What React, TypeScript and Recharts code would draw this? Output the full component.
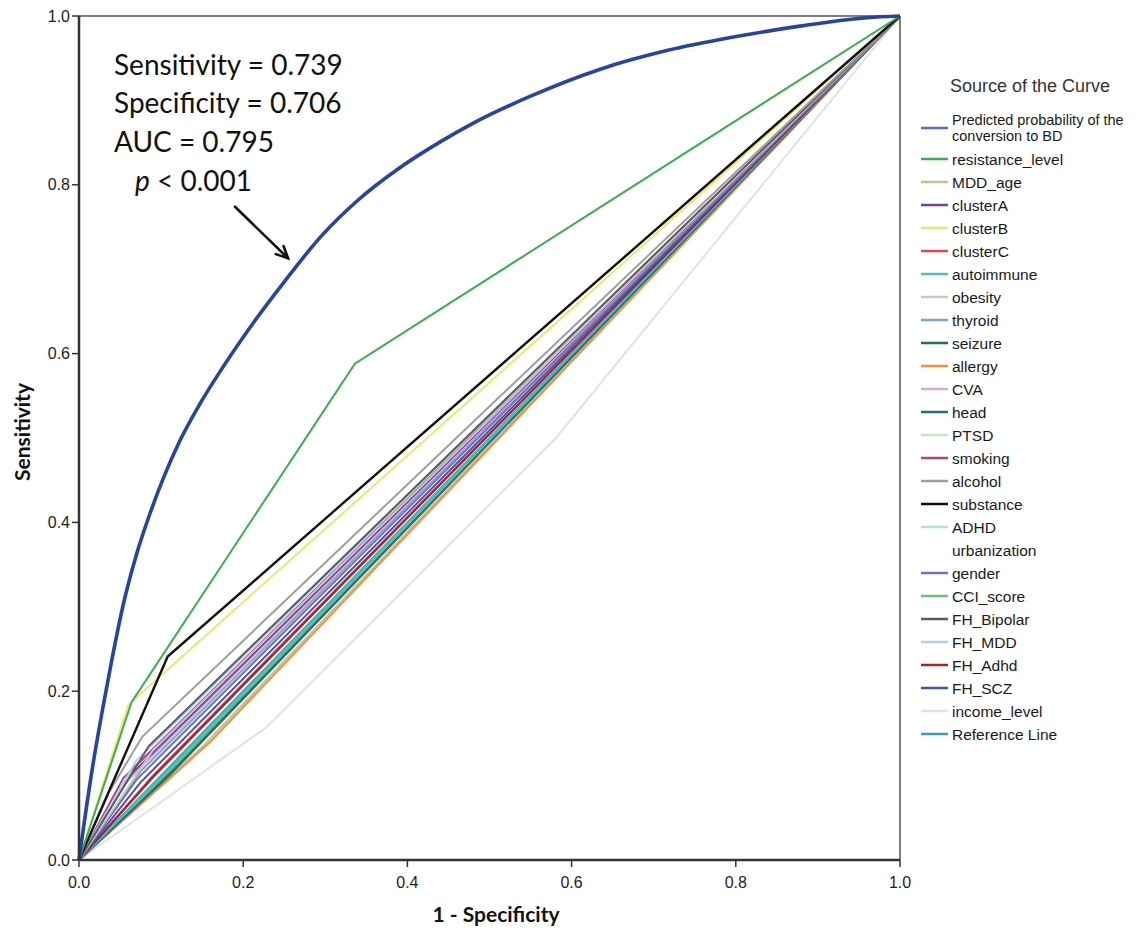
import { Line, LineChart, ReferenceLine, XAxis, YAxis } from 'recharts'

// ROC of the predicted probability (1 - specificity, sensitivity)
const predictedFpr = [
  0, 0.005, 0.017, 0.029, 0.04, 0.054, 0.07, 0.087, 0.103, 0.123, 0.147, 0.176, 0.212, 0.25, 0.294, 0.34,
  0.389, 0.442, 0.482, 0.55, 0.635, 0.716, 0.797, 0.878, 0.96, 1,
]
const predictedTpr = [
  0, 0.035, 0.113, 0.18, 0.237, 0.303, 0.362, 0.412, 0.453, 0.497, 0.54, 0.585, 0.636, 0.685, 0.738, 0.782,
  0.819, 0.852, 0.874, 0.905, 0.937, 0.959, 0.975, 0.988, 0.998, 1,
]

// corner points [1 - specificity, sensitivity] of the single predictors
const resistanceLevel = [[0, 0], [0.064, 0.187], [0.336, 0.588], [1, 1]]
const mddAge = [[0, 0], [0.15, 0.134], [1, 1]]
const clusterA = [[0, 0], [0.06, 0.098], [1, 1]]
const clusterB = [[0, 0], [0.06, 0.184], [1, 1]]
const clusterC = [[0, 0], [0.09, 0.1], [1, 1]]
const autoimmune = [[0, 0], [0.11, 0.108], [1, 1]]
const obesity = [[0, 0], [0.09, 0.13], [1, 1]]
const thyroid = [[0, 0], [0.075, 0.105], [1, 1]]
const seizure = [[0, 0], [0.12, 0.112], [1, 1]]
const allergy = [[0, 0], [0.16, 0.14], [1, 1]]
const cva = [[0, 0], [0.05, 0.085], [1, 1]]
const head = [[0, 0], [0.11, 0.1], [1, 1]]
const ptsd = [[0, 0], [0.16, 0.142], [1, 1]]
const smoking = [[0, 0], [0.054, 0.097], [1, 1]]
const alcohol = [[0, 0], [0.037, 0.081], [0.077, 0.146], [1, 1]]
const substance = [[0, 0], [0.108, 0.241], [1, 1]]
const adhd = [[0, 0], [0.065, 0.108], [1, 1]]
const urbanization = [[0, 0], [0.08, 0.12], [1, 1]]
const gender = [[0, 0], [0.07, 0.095], [1, 1]]
const cciScore = [[0, 0], [0.12, 0.115], [1, 1]]
const fhBipolar = [[0, 0], [0.085, 0.135], [1, 1]]
const fhMdd = [[0, 0], [0.07, 0.118], [1, 1]]
const fhAdhd = [[0, 0], [0.09, 0.098], [1, 1]]
const fhScz = [[0, 0], [0.075, 0.092], [1, 1]]
const incomeLevel = [[0, 0], [0.228, 0.157], [0.581, 0.5], [1, 1]]
const referenceLine = [[0, 0], [1, 1]]

const axisTicks = [0, 0.2, 0.4, 0.6, 0.8, 1]

const curveNames = [
  'Predicted probability of the conversion to BD',
  'resistance_level',
  'MDD_age',
  'clusterA',
  'clusterB',
  'clusterC',
  'autoimmune',
  'obesity',
  'thyroid',
  'seizure',
  'allergy',
  'CVA',
  'head',
  'PTSD',
  'smoking',
  'alcohol',
  'substance',
  'ADHD',
  'urbanization',
  'gender',
  'CCI_score',
  'FH_Bipolar',
  'FH_MDD',
  'FH_Adhd',
  'FH_SCZ',
  'income_level',
  'Reference Line',
]

const curveColors: Record<string, string> = {
  'Predicted probability of the conversion to BD': '#2444a6',
  resistance_level: '#35b04e',
  MDD_age: '#c9c190',
  clusterA: '#7d3f92',
  clusterB: '#eaea6a',
  clusterC: '#e8434c',
  autoimmune: '#42c0c8',
  obesity: '#c8c8c8',
  thyroid: '#72a8d8',
  seizure: '#2b6f52',
  allergy: '#f3913b',
  CVA: '#dcaadc',
  head: '#2d6a80',
  PTSD: '#c2e8c2',
  smoking: '#b3417c',
  alcohol: '#9e9e9e',
  substance: '#111111',
  ADHD: '#b0e2e2',
  urbanization: '#ffffff',
  gender: '#7272b2',
  CCI_score: '#6cc070',
  FH_Bipolar: '#5a5a5a',
  FH_MDD: '#a9d2f2',
  FH_Adhd: '#a3222c',
  FH_SCZ: '#4352b4',
  income_level: '#e2e2e2',
  'Reference Line': '#3a9cba',
}

const toPoints = (pairs: number[][]) => pairs.map(([x, y]) => ({ x, y }))

const curvePoints: Record<string, { x: number; y: number }[]> = {
  'Predicted probability of the conversion to BD': predictedFpr.map((x, i) => ({ x, y: predictedTpr[i] })),
  resistance_level: toPoints(resistanceLevel),
  MDD_age: toPoints(mddAge),
  clusterA: toPoints(clusterA),
  clusterB: toPoints(clusterB),
  clusterC: toPoints(clusterC),
  autoimmune: toPoints(autoimmune),
  obesity: toPoints(obesity),
  thyroid: toPoints(thyroid),
  seizure: toPoints(seizure),
  allergy: toPoints(allergy),
  CVA: toPoints(cva),
  head: toPoints(head),
  PTSD: toPoints(ptsd),
  smoking: toPoints(smoking),
  alcohol: toPoints(alcohol),
  substance: toPoints(substance),
  ADHD: toPoints(adhd),
  urbanization: toPoints(urbanization),
  gender: toPoints(gender),
  CCI_score: toPoints(cciScore),
  FH_Bipolar: toPoints(fhBipolar),
  FH_MDD: toPoints(fhMdd),
  FH_Adhd: toPoints(fhAdhd),
  FH_SCZ: toPoints(fhScz),
  income_level: toPoints(incomeLevel),
  'Reference Line': toPoints(referenceLine),
}

// painter's order: faint lines first, the highlighted ones on top
const drawOrder = [
  'urbanization',
  'income_level',
  'PTSD',
  'MDD_age',
  'allergy',
  'seizure',
  'CCI_score',
  'head',
  'Reference Line',
  'autoimmune',
  'clusterC',
  'FH_Adhd',
  'thyroid',
  'FH_SCZ',
  'gender',
  'CVA',
  'clusterA',
  'ADHD',
  'smoking',
  'FH_MDD',
  'obesity',
  'FH_Bipolar',
  'alcohol',
  'clusterB',
  'substance',
  'resistance_level',
  'Predicted probability of the conversion to BD',
]

const arialLike = '"Liberation Sans", Arial, sans-serif'
const calibriLike = 'Lato, "Open Sans", sans-serif'
const tickFont = { fontSize: 16, fill: '#1e1e1e', fontFamily: arialLike }

function ArrowShape(props: any) {
  const { x1, y1, x2, y2 } = props
  const ang = Math.atan2(y2 - y1, x2 - x1)
  const len = 13
  const a1 = ang + Math.PI - 0.45
  const a2 = ang + Math.PI + 0.45
  return (
    <g stroke="#111" strokeWidth={2.6} fill="none" strokeLinecap="round">
      <line x1={x1} y1={y1} x2={x2} y2={y2} />
      <polyline
        points={`${x2 + len * Math.cos(a1)},${y2 + len * Math.sin(a1)} ${x2},${y2} ${x2 + len * Math.cos(a2)},${y2 + len * Math.sin(a2)}`}
      />
    </g>
  )
}

function CurveLegend() {
  let y = 128
  const rows = curveNames.map((name, i) => {
    const twoLines = i === 0
    const cy = y
    y += twoLines ? 31 : 23
    return (
      <g key={name}>
        {name !== 'urbanization' ? (
          <line x1={921} x2={948} y1={cy} y2={cy} stroke={i === 0 ? '#5271c8' : curveColors[name]} strokeWidth={2.5} />
        ) : null}
        {twoLines ? (
          <>
            <text x={952} y={cy - 3.5} fontSize={14.5} fill="#1a1a1a" fontFamily={arialLike}>
              Predicted probability of the
            </text>
            <text x={952} y={cy + 12.5} fontSize={14.5} fill="#1a1a1a" fontFamily={arialLike}>
              conversion to BD
            </text>
          </>
        ) : (
          <text x={952} y={cy + 5.5} fontSize={15.5} fill="#1a1a1a" fontFamily={arialLike}>
            {name}
          </text>
        )}
      </g>
    )
  })
  return (
    <g>
      <text x={950} y={92} fontSize={18} fill="#333" fontFamily={arialLike}>
        Source of the Curve
      </text>
      {rows}
    </g>
  )
}

export default function App() {
  return (
    <div style={{ position: 'absolute', left: 0, top: 0, width: 1145, height: 931, background: '#fff' }}>
      <LineChart width={1145} height={931} margin={{ top: 16, right: 245, bottom: 0, left: 0 }}>
        <XAxis
          type="number"
          dataKey="x"
          domain={[0, 1]}
          ticks={axisTicks}
          tickFormatter={(v: number) => v.toFixed(1)}
          height={71}
          tickSize={7}
          tickMargin={10}
          tick={tickFont}
          tickLine={{ stroke: '#333', strokeWidth: 1.5 }}
          axisLine={{ stroke: '#333', strokeWidth: 2.5 }}
          allowDuplicatedCategory={false}
        />
        <YAxis
          type="number"
          dataKey="y"
          domain={[0, 1]}
          ticks={axisTicks}
          tickFormatter={(v: number) => v.toFixed(1)}
          width={79}
          tickSize={7}
          tick={tickFont}
          tickLine={{ stroke: '#333', strokeWidth: 1.5 }}
          axisLine={{ stroke: '#333', strokeWidth: 2.5 }}
        />
        <ReferenceLine y={1} stroke="#555" strokeWidth={1.5} />
        <ReferenceLine x={1} stroke="#555" strokeWidth={1.5} />
        {drawOrder.map((name) => {
          const main = name === curveNames[0]
          return (
            <Line
              key={name}
              data={curvePoints[name]}
              dataKey="y"
              name={name}
              type={main ? 'monotone' : 'linear'}
              stroke={curveColors[name]}
              strokeWidth={main ? 3.6 : name === 'substance' ? 2.4 : 2}
              dot={false}
              activeDot={false}
              isAnimationActive={false}
            />
          )
        })}
        <ReferenceLine
          segment={[
            { x: 0.19, y: 0.774 },
            { x: 0.2546, y: 0.713 },
          ]}
          shape={ArrowShape}
        />
      </LineChart>

      <svg
        width={1145}
        height={931}
        style={{ position: 'absolute', left: 0, top: 0, pointerEvents: 'none' }}
      >
        <g fontFamily={calibriLike} fontSize={28} fill="#111">
          <text x={114} y={75}>Sensitivity = 0.739</text>
          <text x={114} y={113}>Specificity = 0.706</text>
          <text x={114} y={152}>AUC = 0.795</text>
          <text x={135} y={191}>
            <tspan fontStyle="italic">p</tspan> &lt; 0.001
          </text>
        </g>
        <text x={496} y={922} textAnchor="middle" fontFamily={calibriLike} fontWeight={700} fontSize={21} fill="#111">
          1 - Specificity
        </text>
        <text
          x={0}
          y={0}
          transform="translate(30 432) rotate(-90)"
          textAnchor="middle"
          fontFamily={calibriLike}
          fontWeight={700}
          fontSize={21}
          fill="#111"
        >
          Sensitivity
        </text>
        <CurveLegend />
      </svg>
    </div>
  )
}
